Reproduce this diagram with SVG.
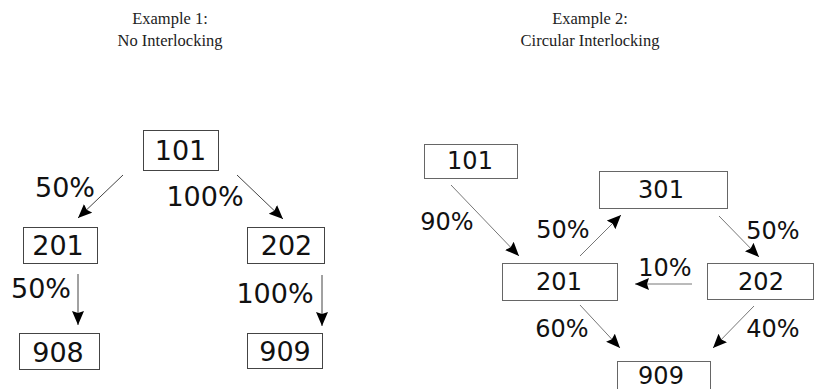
<svg xmlns="http://www.w3.org/2000/svg" width="814" height="389" viewBox="0 0 814 389">
<style>
.title{font-family:"Liberation Serif","Times New Roman",serif;font-size:16.5px;fill:#222;text-anchor:middle}
.box1{fill:#fff;stroke:#444;stroke-width:1}
.box2{fill:#fff;stroke:#666;stroke-width:1}
.n1{font-family:"DejaVu Sans",Verdana,sans-serif;font-size:27px;fill:#111;text-anchor:middle}
.n2{font-family:"DejaVu Sans",Verdana,sans-serif;font-size:24px;fill:#111;text-anchor:middle}
.e1{stroke:#444;stroke-width:1;fill:none;marker-end:url(#ah)}
.e2{stroke:#777;stroke-width:1;fill:none;marker-end:url(#ah)}
</style>
<defs>
<marker id="ah" markerUnits="userSpaceOnUse" markerWidth="16" markerHeight="14" refX="14" refY="6" orient="auto">
<path d="M0,0 L14,6 L0,12 L2,6 Z" fill="#000"/>
</marker>
</defs>
<rect width="814" height="389" fill="#fff"/>
<g id="titles">
<text class="title" x="170" y="24">Example 1:</text>
<text class="title" x="170" y="46">No Interlocking</text>
<text class="title" x="590" y="24">Example 2:</text>
<text class="title" x="590" y="46">Circular Interlocking</text>
</g>
<g id="connectors">
<line class="e1" x1="123" y1="175" x2="78" y2="218"/>
<line class="e1" x1="237" y1="175" x2="283" y2="219"/>
<line class="e1" x1="78" y1="274" x2="78" y2="325"/>
<line class="e1" x1="322" y1="275" x2="322" y2="326"/>
<line class="e2" x1="451" y1="185" x2="519" y2="256"/>
<line class="e2" x1="580" y1="256" x2="621" y2="215"/>
<line class="e2" x1="719" y1="216" x2="759" y2="257"/>
<line class="e2" x1="692" y1="284" x2="635" y2="284"/>
<line class="e2" x1="580" y1="305" x2="620" y2="348"/>
<line class="e2" x1="754" y1="306" x2="713" y2="348"/>
</g>
<g id="edge-labels">
<text class="n1" x="65" y="197">50%</text>
<text class="n1" x="205" y="206">100%</text>
<text class="n1" x="41" y="298">50%</text>
<text class="n1" x="275" y="303">100%</text>
<text class="n2" x="447" y="230">90%</text>
<text class="n2" x="563" y="238">50%</text>
<text class="n2" x="773" y="239">50%</text>
<text class="n2" x="665" y="276">10%</text>
<text class="n2" x="562" y="337">60%</text>
<text class="n2" x="773" y="337">40%</text>
</g>
<g id="ex1-101"><rect class="box1" x="143.5" y="130.5" width="75" height="40"/><text class="n1" x="180.5" y="160">101</text></g>
<g id="ex1-201"><rect class="box1" x="23.5" y="227.5" width="74" height="36"/><text class="n1" x="58" y="255">201</text></g>
<g id="ex1-202"><rect class="box1" x="247.5" y="227.5" width="77" height="36"/><text class="n1" x="286.5" y="255">202</text></g>
<g id="ex1-908"><rect class="box1" x="19.5" y="333.5" width="80" height="36"/><text class="n1" x="58" y="362">908</text></g>
<g id="ex1-909"><rect class="box1" x="247.5" y="333.5" width="75" height="35"/><text class="n1" x="285" y="361">909</text></g>
<g id="ex2-101"><rect class="box2" x="424.5" y="144.5" width="93" height="34"/><text class="n2" x="470" y="169">101</text></g>
<g id="ex2-301"><rect class="box2" x="599.5" y="171.5" width="128" height="37"/><text class="n2" x="661" y="198">301</text></g>
<g id="ex2-201"><rect class="box2" x="502.5" y="263.5" width="115" height="37"/><text class="n2" x="559" y="290">201</text></g>
<g id="ex2-202"><rect class="box2" x="707.5" y="263.5" width="106" height="36"/><text class="n2" x="761" y="290">202</text></g>
<g id="ex2-909"><rect class="box2" x="617.5" y="361.5" width="93" height="40"/><text class="n2" x="661" y="384">909</text></g>
</svg>
